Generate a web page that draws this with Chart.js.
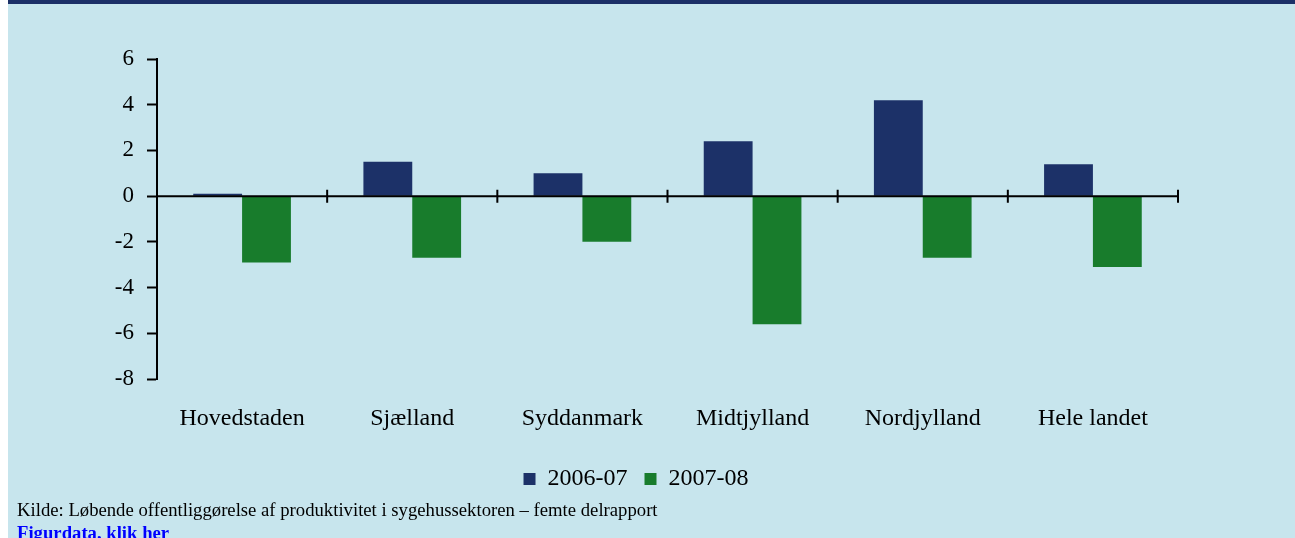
<!DOCTYPE html>
<html>
<head>
<meta charset="utf-8">
<script src="https://cdn.jsdelivr.net/npm/chart.js@4"></script>
<style>
  html, body { margin: 0; padding: 0; background: #ffffff; overflow: hidden; }
  #page { position: relative; width: 1295px; height: 538px; overflow: hidden; }
  #bg { position: absolute; left: 8px; top: 0; right: 0; bottom: 0; background: #c7e5ed; }
  #band { position: absolute; left: 8px; top: 0; right: 0; height: 4px; background: #1c3067; }
  #chart { position: absolute; left: 0; top: 0; }
  .note { position: absolute; left: 17px; font-family: 'Liberation Serif', 'Times New Roman', serif; white-space: nowrap; }
  #source { top: 499px; font-size: 18.7px; color: #000; }
  #link { top: 522px; font-size: 18.7px; font-weight: bold; color: #0000ff; }
</style>
</head>
<body>
<div id="page">
  <div id="bg"></div>
  <div id="band"></div>
  <canvas id="chart" width="1295" height="538"></canvas>
  <div id="source" class="note">Kilde: Løbende offentliggørelse af produktivitet i sygehussektoren – femte delrapport</div>
  <div id="link" class="note">Figurdata, klik her</div>
</div>
<script>
// Regions and change per year
var categories = ['Hovedstaden', 'Sjælland', 'Syddanmark', 'Midtjylland', 'Nordjylland', 'Hele landet'];
var seriesNames = ['2006-07', '2007-08'];
var values0607 = [0.1, 1.5, 1.0, 2.4, 4.2, 1.4];
var values0708 = [-2.9, -2.7, -2.0, -5.6, -2.7, -3.1];
var yMin = -8;
var yMax = 6;
var yStep = 2;

var serif = "'Liberation Serif', 'Times New Roman', serif";

// zero line and crossing ticks between categories, drawn on top of the bars
var zeroAxis = {
    id: 'zeroAxis',
    afterDatasetsDraw: function (chart) {
        var ctx = chart.ctx;
        var area = chart.chartArea;
        var x = chart.scales.x;
        var y0 = chart.scales.y.getPixelForValue(0);
        ctx.save();
        ctx.strokeStyle = '#000';
        ctx.lineWidth = 2;
        ctx.beginPath();
        ctx.moveTo(area.left, y0);
        ctx.lineTo(area.right, y0);
        for (var i = 1; i <= categories.length; i++) {
            var px = i < categories.length
                ? (x.getPixelForValue(i - 1) + x.getPixelForValue(i)) / 2
                : area.right;
            ctx.moveTo(px, y0 - 6.5);
            ctx.lineTo(px, y0 + 6.5);
        }
        ctx.stroke();
        ctx.restore();
    }
};

new Chart(document.getElementById('chart'), {
    type: 'bar',
    data: {
        labels: categories,
        datasets: [{
            label: seriesNames[0],
            data: values0607,
            backgroundColor: '#1c3168'
        }, {
            label: seriesNames[1],
            data: values0708,
            backgroundColor: '#187c2c'
        }]
    },
    options: {
        responsive: false,
        animation: false,
        devicePixelRatio: 1,
        categoryPercentage: 0.574,
        barPercentage: 1.0,
        layout: {
            padding: { left: 94, right: 117, top: 59, bottom: 37 }
        },
        scales: {
            x: {
                grid: { display: false },
                border: { display: false },
                ticks: {
                    color: '#000',
                    padding: 17,
                    font: { family: serif, size: 24 }
                },
                afterFit: function (scale) { scale.height = 71; }
            },
            y: {
                min: yMin,
                max: yMax,
                ticks: {
                    stepSize: yStep,
                    color: '#000',
                    padding: 13,
                    font: { family: serif, size: 23 }
                },
                grid: {
                    drawOnChartArea: false,
                    tickColor: '#000',
                    tickLength: 10,
                    tickWidth: 2
                },
                border: { color: '#000', width: 2 },
                afterFit: function (scale) { scale.width = 63; }
            }
        },
        plugins: {
            legend: {
                position: 'bottom',
                labels: {
                    color: '#000',
                    boxWidth: 12,
                    boxHeight: 12,
                    padding: 17,
                    font: { family: serif, size: 24 }
                }
            },
            tooltip: { enabled: false }
        }
    },
    plugins: [zeroAxis]
});
</script>
</body>
</html>
